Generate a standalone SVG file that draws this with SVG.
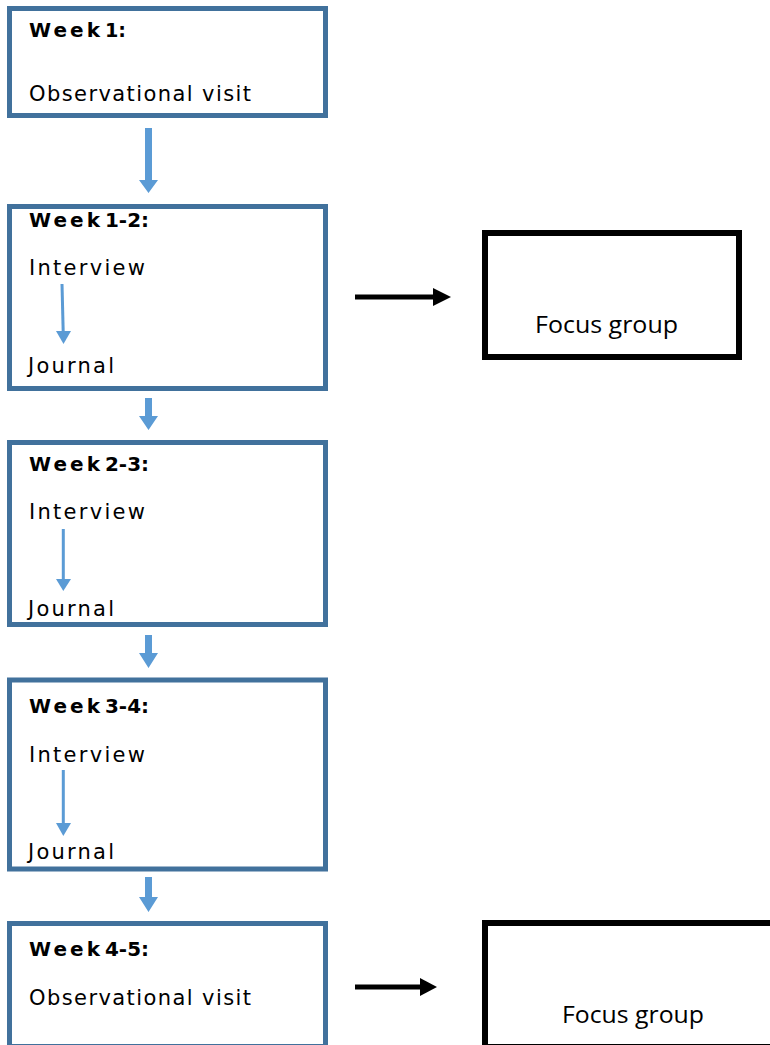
<svg xmlns="http://www.w3.org/2000/svg" width="770" height="1045" viewBox="0 0 770 1045">
<style>
.wk{fill:#fff;stroke:#41719C;stroke-width:5}
.fg{fill:#fff;stroke:#000;stroke-width:6}
.b{font-family:"DejaVu Sans","Liberation Sans",sans-serif;font-weight:bold;font-size:20px;fill:#000}
.t{font-family:"DejaVu Sans","Liberation Sans",sans-serif;font-size:21px;fill:#000}
.f{font-family:"Open Sans","Liberation Sans",sans-serif;font-size:23px;fill:#000}
.ba{fill:#5B9BD5}
.sa{stroke:#5B9BD5;stroke-width:3}
.ka{fill:#000}
</style>
<rect width="770" height="1045" fill="#fff"/>
<g id="week1">
<rect class="wk" x="9.5" y="8.5" width="316" height="107"/>
<text class="b" y="37"><tspan x="29" textLength="71" lengthAdjust="spacing">Week</tspan><tspan x="105" textLength="21" lengthAdjust="spacingAndGlyphs">1:</tspan></text>
<text class="t" x="29" y="101" textLength="222" lengthAdjust="spacing">Observational visit</text>
</g>
<g id="week1-2">
<rect class="wk" x="9.5" y="206.5" width="316" height="182"/>
<text class="b" y="227"><tspan x="29" textLength="71" lengthAdjust="spacing">Week</tspan><tspan x="105" textLength="44" lengthAdjust="spacingAndGlyphs">1-2:</tspan></text>
<text class="t" x="29" y="275" textLength="116" lengthAdjust="spacing">Interview</text>
<text class="t" x="28" y="373" textLength="86" lengthAdjust="spacing">Journal</text>
</g>
<g id="week2-3">
<rect class="wk" x="9.5" y="442.5" width="316" height="182"/>
<text class="b" y="471"><tspan x="29" textLength="71" lengthAdjust="spacing">Week</tspan><tspan x="105" textLength="44" lengthAdjust="spacingAndGlyphs">2-3:</tspan></text>
<text class="t" x="29" y="519" textLength="116" lengthAdjust="spacing">Interview</text>
<text class="t" x="28" y="616" textLength="86" lengthAdjust="spacing">Journal</text>
</g>
<g id="week3-4">
<rect class="wk" x="9.5" y="680" width="316" height="189"/>
<text class="b" y="713"><tspan x="29" textLength="71" lengthAdjust="spacing">Week</tspan><tspan x="105" textLength="44" lengthAdjust="spacingAndGlyphs">3-4:</tspan></text>
<text class="t" x="29" y="762" textLength="116" lengthAdjust="spacing">Interview</text>
<text class="t" x="28" y="859" textLength="86" lengthAdjust="spacing">Journal</text>
</g>
<g id="week4-5">
<rect class="wk" x="9.5" y="923.5" width="316" height="123"/>
<text class="b" y="956"><tspan x="29" textLength="71" lengthAdjust="spacing">Week</tspan><tspan x="105" textLength="44" lengthAdjust="spacingAndGlyphs">4-5:</tspan></text>
<text class="t" x="29" y="1005" textLength="222" lengthAdjust="spacing">Observational visit</text>
</g>
<g id="focus1">
<rect class="fg" x="485" y="233" width="254" height="124"/>
<text class="f" x="535" y="333" textLength="143" lengthAdjust="spacingAndGlyphs">Focus group</text>
</g>
<g id="focus2">
<rect class="fg" x="485" y="923" width="300" height="124"/>
<text class="f" x="562" y="1023" textLength="142" lengthAdjust="spacingAndGlyphs">Focus group</text>
</g>
<g id="connectors">
<polygon class="ba" points="145,128 152,128 152,180 158,180 148.5,193 139,180 145,180"/>
<polygon class="ba" points="145,398 152,398 152,416 158,416 148.5,430 139,416 145,416"/>
<polygon class="ba" points="145,635 152,635 152,653 158,653 148.5,668 139,653 145,653"/>
<polygon class="ba" points="145,877 152,877 152,897 158,897 148.5,912 139,897 145,897"/>
<line class="sa" x1="62" y1="284" x2="63.2" y2="332"/>
<polygon class="ba" points="56,331 71,331 63.5,344"/>
<line class="sa" x1="63.3" y1="529" x2="63.3" y2="580"/>
<polygon class="ba" points="56,579 71,579 63.3,591"/>
<line class="sa" x1="63.3" y1="770" x2="63.3" y2="824"/>
<polygon class="ba" points="56,823 71,823 63.3,836"/>
<rect class="ka" x="355" y="294.5" width="79" height="5"/>
<polygon class="ka" points="433,288 451,297 433,306"/>
<rect class="ka" x="355" y="984.5" width="66" height="5"/>
<polygon class="ka" points="420,978 437,987 420,996"/>
</g>
</svg>
